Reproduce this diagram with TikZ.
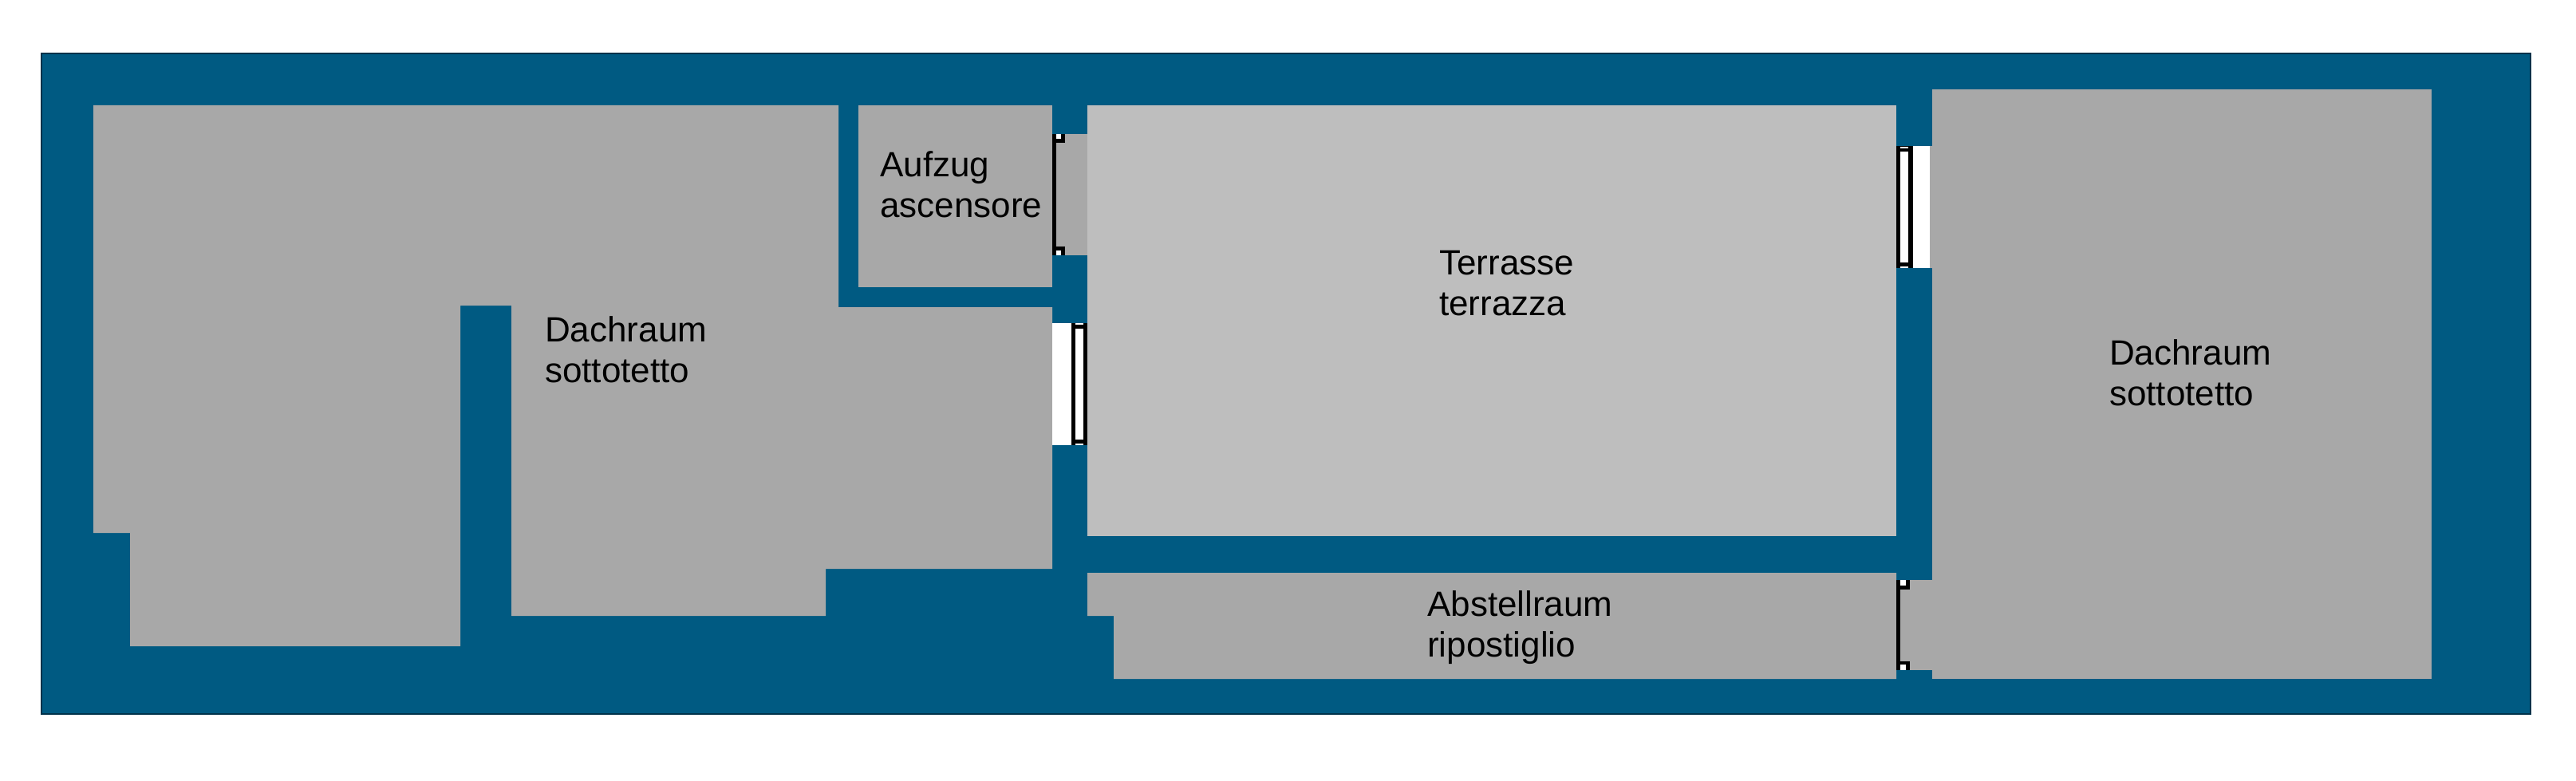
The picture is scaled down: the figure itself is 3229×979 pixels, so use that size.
\documentclass[tikz,border=0pt]{standalone}
\usepackage{fontspec}
\setmainfont{Liberation Sans}
\definecolor{wallblue}{HTML}{005A82}
\definecolor{walledge}{HTML}{00324A}
\definecolor{attic}{HTML}{A8A8A8}
\definecolor{terr}{HTML}{BEBEBE}
\tikzset{
  wall/.style={fill=wallblue,draw=walledge,line width=1.5pt},
  atticroom/.style={fill=attic},
  terrroom/.style={fill=terr},
  frame/.style={fill=black},
  glass/.style={fill=white},
  roomlabel/.style={font=\fontsize{44}{51}\selectfont,align=left,text=black,inner sep=0pt,anchor=base west}
}
\begin{document}
\begin{tikzpicture}[x=1pt,y=-1pt]
\useasboundingbox (0,0) rectangle (3229,979);
% walls
\path[wall] (52,67) rectangle (3172,895);
% rooms
\path[atticroom] (117,132) -- (1051,132) -- (1051,385) -- (1319,385) -- (1319,713) -- (1035,713) -- (1035,772) -- (641,772) -- (641,383) -- (577,383) -- (577,810) -- (163,810) -- (163,668) -- (117,668) -- cycle;
\path[atticroom] (1076,132) rectangle (1319,360);
\path[terrroom] (1363,132) rectangle (2377,672);
\path[atticroom] (1363,718) -- (2377,718) -- (2377,851) -- (1396,851) -- (1396,772) -- (1363,772) -- cycle;
\path[atticroom] (2422,112) rectangle (3048,851);
% door Aufzug
\path[atticroom] (1324,168) rectangle (1363,320);
\path[frame] (1319,168) rectangle (1324,320);
\path[frame] (1319,168) rectangle (1335,179);
\path[frame] (1319,309) rectangle (1335,320);
\path[glass] (1324,168) rectangle (1330,174);
\path[glass] (1324,314) rectangle (1330,320);
% window left
\path[glass] (1319,405) rectangle (1343,558);
\path[frame] (1343,405) rectangle (1363,558);
\path[glass] (1348,405) rectangle (1358,407);
\path[glass] (1348,412) rectangle (1358,551);
\path[glass] (1348,556) rectangle (1358,558);
% window right
\path[atticroom] (2419,183) rectangle (2423,336);
\path[glass] (2398,183) rectangle (2419,336);
\path[frame] (2377,183) rectangle (2398,336);
\path[glass] (2382,184) rectangle (2392,185.5);
\path[glass] (2382,190) rectangle (2392,329);
\path[glass] (2382,334) rectangle (2392,336);
% door Abstellraum
\path[atticroom] (2382,727) rectangle (2423,840);
\path[frame] (2377,727) rectangle (2382,840);
\path[frame] (2377,727) rectangle (2394,739);
\path[frame] (2377,829) rectangle (2394,840);
\path[glass] (2382,727) rectangle (2389,734);
\path[glass] (2382,833) rectangle (2389,840);
% labels
\node[roomlabel] (dachl) at (683,479) {Dachraum\\sottotetto};
\node[roomlabel] (lift) at (1103,272.5) {Aufzug\\ascensore};
\node[roomlabel] (terrasse) at (1804,395.5) {Terrasse\\terrazza};
\node[roomlabel] (dachr) at (2644,508.5) {Dachraum\\sottotetto};
\node[roomlabel] (abst) at (1789,823.5) {Abstellraum\\ripostiglio};
\end{tikzpicture}
\end{document}
